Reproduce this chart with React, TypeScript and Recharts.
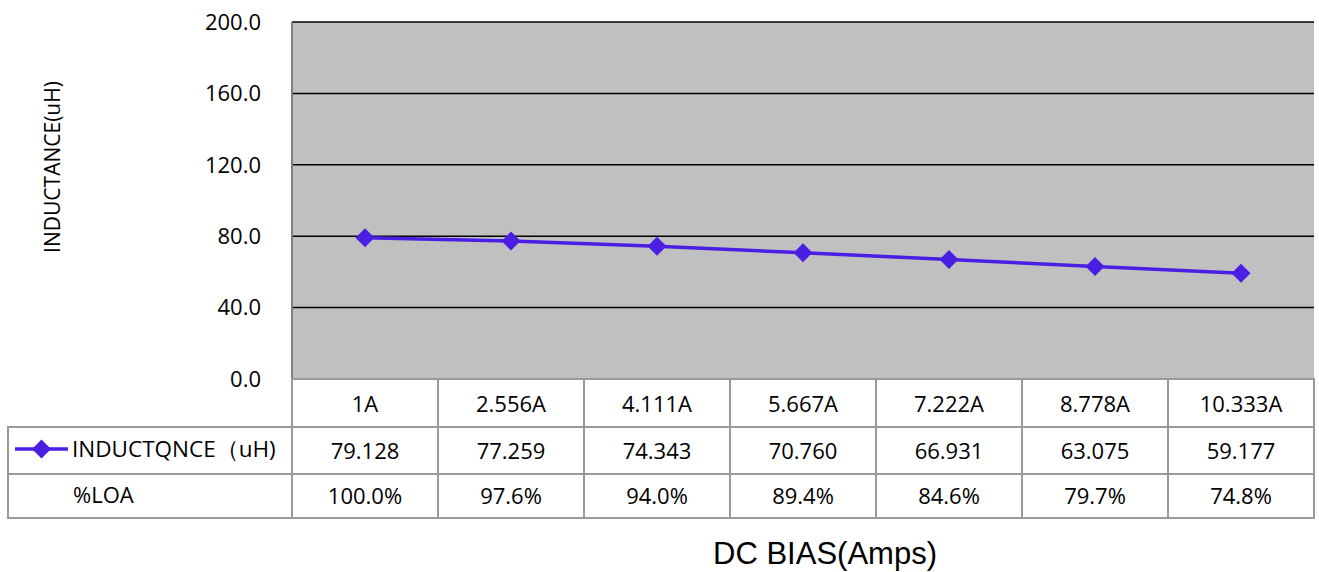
import React from "react";
import {
  ComposedChart,
  Line,
  XAxis,
  YAxis,
  CartesianGrid,
  Label,
} from "recharts";

const categories = ["1A", "2.556A", "4.111A", "5.667A", "7.222A", "8.778A", "10.333A"];
const inductance = [79.128, 77.259, 74.343, 70.76, 66.931, 63.075, 59.177];
const loaLabels = ["100.0%", "97.6%", "94.0%", "89.4%", "84.6%", "79.7%", "74.8%"];
const yTicks = [0, 40, 80, 120, 160, 200];

const seriesName = "INDUCTQNCE（uH)";
const LINE_COLOR = "#4A1FE3";
const BORDER = "#9a9a9a";
const TABLE_FONT = "'Open Sans', 'Noto Sans', sans-serif";
const AXIS_FONT = "'Liberation Sans', Arial, sans-serif";

const data = categories.map((c, i) => ({
  cat: c,
  value: inductance[i],
  loa: loaLabels[i],
}));

const PLOT_LEFT = 292;
const PLOT_RIGHT = 1314;
const PLOT_BOTTOM = 379;
const ROW1 = 427;
const ROW2 = 474;
const ROW3 = 518;

function Diamond(props: any) {
  const { cx, cy } = props;
  if (cx == null || cy == null) return null;
  const r = 9.5;
  return (
    <polygon
      points={`${cx},${cy - r} ${cx + r},${cy} ${cx},${cy + r} ${cx - r},${cy}`}
      fill={LINE_COLOR}
    />
  );
}

function TableTick(props: any) {
  const { x, payload, index } = props;
  const bw = (PLOT_RIGHT - PLOT_LEFT) / categories.length;
  const left = x - bw / 2;
  const row = data[index];
  return (
    <g>
      {index === 0 && (
        <g>
          <rect x={8} y={ROW1} width={PLOT_LEFT - 8} height={ROW3 - ROW1} fill="none" stroke={BORDER} strokeWidth={2} />
          <line x1={8} x2={PLOT_LEFT} y1={ROW2} y2={ROW2} stroke={BORDER} strokeWidth={2} />
          <line x1={15} x2={68} y1={449} y2={449} stroke={LINE_COLOR} strokeWidth={3.5} />
          <Diamond cx={41.5} cy={449} />
          <text x={72} y={457} fontSize={22.5} fontFamily={TABLE_FONT} fill="#000">
            {seriesName}
          </text>
          <text x={73} y={503} fontSize={22} fontFamily={TABLE_FONT} fill="#000">
            %LOA
          </text>
        </g>
      )}
      <rect x={left} y={PLOT_BOTTOM} width={bw} height={ROW3 - PLOT_BOTTOM} fill="none" stroke={BORDER} strokeWidth={2} />
      <line x1={left} x2={left + bw} y1={ROW1} y2={ROW1} stroke={BORDER} strokeWidth={2} />
      <line x1={left} x2={left + bw} y1={ROW2} y2={ROW2} stroke={BORDER} strokeWidth={2} />
      <text x={x} y={412} textAnchor="middle" fontSize={22} fontFamily={TABLE_FONT} fill="#000">
        {payload.value}
      </text>
      <text x={x} y={459} textAnchor="middle" fontSize={22} fontFamily={TABLE_FONT} fill="#000">
        {row.value.toFixed(3)}
      </text>
      <text x={x} y={504} textAnchor="middle" fontSize={22} fontFamily={TABLE_FONT} fill="#000">
        {row.loa}
      </text>
    </g>
  );
}

function YTitle() {
  return (
    <text
      x={60}
      y={167}
      transform="rotate(-90 60 167)"
      textAnchor="middle"
      fontSize={21}
      fontFamily={TABLE_FONT}
      fill="#000"
    >
      INDUCTANCE(uH)
    </text>
  );
}

export default function App() {
  return (
    <div style={{ position: "absolute", left: 0, top: 0, background: "#fff" }}>
      <ComposedChart
        width={1319}
        height={572}
        data={data}
        margin={{ top: 22, right: 5, bottom: 0, left: 212 }}
      >
        <CartesianGrid
          horizontal
          vertical={false}
          stroke="#000"
          strokeWidth={1.5}
          fill="#C0C0C0"
          fillOpacity={1}
          yAxisId="left"
        />
        <XAxis
          dataKey="cat"
          scale="band"
          height={193}
          interval={0}
          tickLine={false}
          axisLine={{ stroke: "#808080", strokeWidth: 2 }}
          tick={<TableTick />}
        >
          <Label
            value="DC BIAS(Amps)"
            position="insideBottom"
            offset={8}
            dx={22}
            style={{ fontSize: 31, fontFamily: AXIS_FONT, fill: "#000" }}
          />
        </XAxis>
        <YAxis
          yAxisId="left"
          width={80}
          domain={[0, 200]}
          ticks={yTicks}
          tickFormatter={(v: number) => v.toFixed(1)}
          tickLine={false}
          tickSize={6}
          tickMargin={25}
          axisLine={{ stroke: "#808080", strokeWidth: 2 }}
          tick={{ fontSize: 22, fontFamily: TABLE_FONT, fill: "#000" }}
          label={<YTitle />}
        />
        <YAxis
          yAxisId="right"
          orientation="right"
          width={0}
          domain={[0, 200]}
          tick={false}
          tickLine={false}
          axisLine={{ stroke: "#000", strokeWidth: 2.5 }}
        />
        <Line
          yAxisId="left"
          type="linear"
          dataKey="value"
          stroke={LINE_COLOR}
          strokeWidth={3.5}
          dot={<Diamond />}
          activeDot={false}
          isAnimationActive={false}
        />
      </ComposedChart>
    </div>
  );
}
